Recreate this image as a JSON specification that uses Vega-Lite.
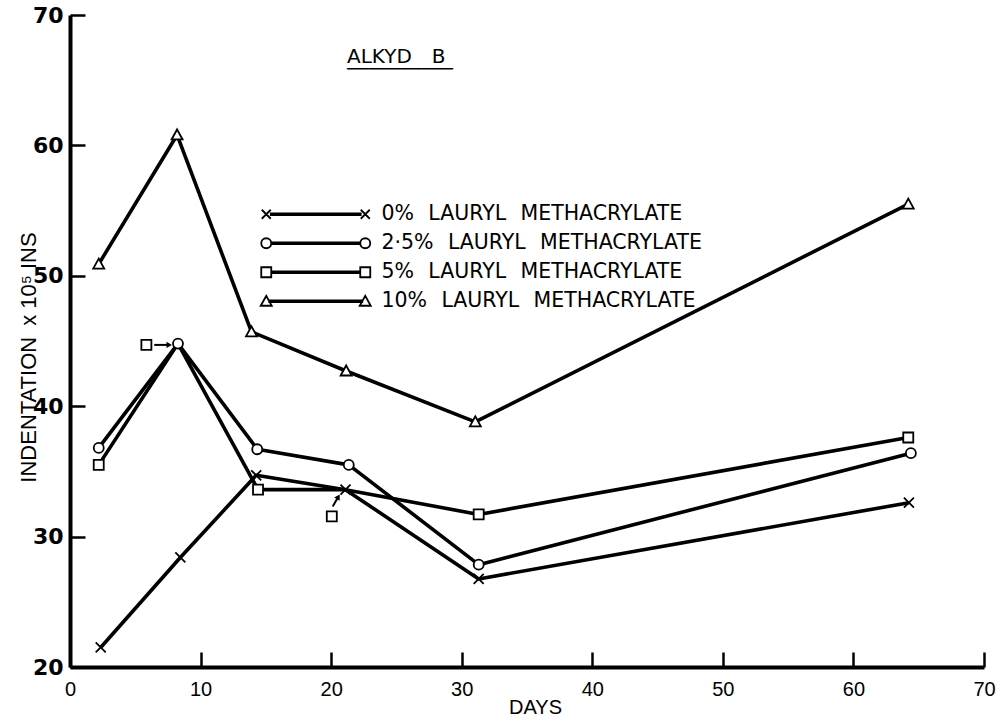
{
  "$schema": "https://vega.github.io/schema/vega-lite/v6.json",
  "width": 914,
  "height": 652,
  "autosize": {"type": "none"},
  "padding": {"left": 70, "top": 15, "right": 19, "bottom": 58},
  "background": "white",
  "title": {
    "text": "ALKYD\u2003B",
    "subtitle": "\u2500\u2500\u2500\u2500\u2500\u2500\u2500\u2500\u2500\u2500",
    "anchor": "start",
    "frame": "group",
    "orient": "top",
    "offset": 0,
    "dx": 277,
    "dy": 91,
    "baseline": "alphabetic",
    "font": "DejaVu Sans",
    "fontSize": 20,
    "fontWeight": "normal",
    "color": "black",
    "subtitleFont": "DejaVu Sans",
    "subtitleFontSize": 17.6,
    "subtitleColor": "black",
    "subtitlePadding": -8
  },
  "datasets": {
    "series": [
      {"series": "0%", "day": 2.35, "value": 21.5, "shown": "yes"},
      {"series": "0%", "day": 8.45, "value": 28.4, "shown": "yes"},
      {"series": "0%", "day": 14.26, "value": 34.7, "shown": "yes"},
      {"series": "0%", "day": 21.1, "value": 33.6, "shown": "yes"},
      {"series": "0%", "day": 31.3, "value": 26.75, "shown": "yes"},
      {"series": "0%", "day": 64.25, "value": 32.6, "shown": "yes"},
      {"series": "2·5%", "day": 2.2, "value": 36.8, "shown": "yes"},
      {"series": "2·5%", "day": 8.27, "value": 44.8, "shown": "yes"},
      {"series": "2·5%", "day": 14.34, "value": 36.7, "shown": "yes"},
      {"series": "2·5%", "day": 21.35, "value": 35.5, "shown": "yes"},
      {"series": "2·5%", "day": 31.3, "value": 27.85, "shown": "yes"},
      {"series": "2·5%", "day": 64.4, "value": 36.4, "shown": "yes"},
      {"series": "5%", "day": 2.2, "value": 35.5, "shown": "yes"},
      {"series": "5%", "day": 8.27, "value": 44.8, "shown": "no"},
      {"series": "5%", "day": 14.4, "value": 33.6, "shown": "yes"},
      {"series": "5%", "day": 21.1, "value": 33.6, "shown": "no"},
      {"series": "5%", "day": 31.3, "value": 31.7, "shown": "yes"},
      {"series": "5%", "day": 64.2, "value": 37.6, "shown": "yes"},
      {"series": "10%", "day": 2.2, "value": 50.9, "shown": "yes"},
      {"series": "10%", "day": 8.2, "value": 60.8, "shown": "yes"},
      {"series": "10%", "day": 13.9, "value": 45.7, "shown": "yes"},
      {"series": "10%", "day": 21.15, "value": 42.7, "shown": "yes"},
      {"series": "10%", "day": 31.04, "value": 38.8, "shown": "yes"},
      {"series": "10%", "day": 64.2, "value": 55.5, "shown": "yes"}
    ],
    "notes": [
      {"day": 5.85, "value": 44.7},
      {"day": 20.05, "value": 31.55}
    ],
    "arrows": [
      {"id": "a", "day": 6.45, "value": 44.7, "day2": 7.6, "value2": 44.7},
      {"id": "b", "day": 20.12, "value": 32.3, "day2": 20.55, "value2": 33.05}
    ]
  },
  "layer": [
    {
      "data": {"name": "series"},
      "mark": {"type": "line", "stroke": "black", "strokeWidth": 3.6, "strokeJoin": "round"},
      "encoding": {
        "x": {"field": "day", "type": "quantitative"},
        "y": {"field": "value", "type": "quantitative"},
        "detail": {"field": "series"}
      }
    },
    {
      "data": {"name": "series"},
      "transform": [{"filter": "datum.shown === 'yes'"}],
      "mark": {"type": "point", "filled": true, "fill": "white", "stroke": "black", "strokeWidth": 1.8, "size": 100, "opacity": 1},
      "encoding": {
        "x": {"field": "day", "type": "quantitative"},
        "y": {"field": "value", "type": "quantitative"},
        "shape": {
          "field": "series",
          "type": "nominal",
          "legend": null,
          "scale": {
            "domain": ["0%", "2·5%", "5%", "10%"],
            "range": [
              "M-1,-1L1,1M-1,1L1,-1",
              "M1,0A1,1 0 1,1 -1,0A1,1 0 1,1 1,0Z",
              "M-1,-1L1,-1L1,1L-1,1Z",
              "M-1.1,0.9L0,-1.1L1.1,0.9Z"
            ]
          }
        }
      }
    },
    {
      "data": {"name": "series"},
      "transform": [{"filter": "datum.shown === 'yes'"}],
      "mark": {"type": "point", "filled": false, "stroke": "black", "strokeWidth": 1.8, "size": 100, "opacity": 0},
      "encoding": {
        "x": {"field": "day", "type": "quantitative"},
        "y": {"field": "value", "type": "quantitative"},
        "shape": {
          "field": "series",
          "type": "nominal",
          "scale": {
            "domain": ["0%", "2·5%", "5%", "10%"],
            "range": [
              "M-0.9,-0.9L0.9,0.9M-0.9,0.9L0.9,-0.9M18.9,-0.9L20.7,0.9M18.9,0.9L20.7,-0.9M0.9,-0.15L18.9,-0.15L18.9,0.15L0.9,0.15Z",
              "M1,0A1,1 0 1,1 -1,0A1,1 0 1,1 1,0ZM20.8,0A1,1 0 1,1 18.8,0A1,1 0 1,1 20.8,0ZM1,-0.15L18.8,-0.15L18.8,0.15L1,0.15Z",
              "M-1,-1L1,-1L1,1L-1,1ZM18.8,-1L20.8,-1L20.8,1L18.8,1ZM1,-0.15L18.8,-0.15L18.8,0.15L1,0.15Z",
              "M-1.1,0.9L0,-1.1L1.1,0.9ZM18.7,0.9L19.8,-1.1L20.9,0.9ZM0.6,-0.15L19.2,-0.15L19.2,0.15L0.6,0.15Z"
            ]
          },
          "legend": {
            "title": null,
            "orient": "none",
            "legendX": 186,
            "legendY": 189,
            "padding": 0,
            "symbolSize": 100,
            "symbolOffset": 0,
            "symbolOpacity": 1,
            "symbolStrokeColor": "black",
            "symbolFillColor": "transparent",
            "symbolStrokeWidth": 1.8,
            "labelOffset": 105,
            "rowPadding": 8,
            "labelFont": "DejaVu Sans",
            "labelFontSize": 20.5,
            "labelColor": "black",
            "labelLimit": 0,
            "labelExpr": "datum.label + '\u2002\u2009LAURYL\u2002\u2009METHACRYLATE'"
          }
        }
      }
    },
    {
      "data": {"name": "notes"},
      "mark": {"type": "point", "shape": "M-1,-1L1,-1L1,1L-1,1Z", "filled": true, "fill": "white", "stroke": "black", "strokeWidth": 1.8, "size": 100, "opacity": 1},
      "encoding": {
        "x": {"field": "day", "type": "quantitative"},
        "y": {"field": "value", "type": "quantitative"}
      }
    },
    {
      "data": {"name": "arrows"},
      "mark": {"type": "rule", "stroke": "black", "strokeWidth": 2},
      "encoding": {
        "x": {"field": "day", "type": "quantitative"},
        "y": {"field": "value", "type": "quantitative"},
        "x2": {"field": "day2"},
        "y2": {"field": "value2"}
      }
    },
    {
      "data": {"name": "arrows"},
      "transform": [{"filter": "datum.id === 'a'"}],
      "mark": {"type": "point", "shape": "triangle-up", "filled": true, "color": "black", "size": 40, "angle": 90, "opacity": 1},
      "encoding": {
        "x": {"field": "day2", "type": "quantitative"},
        "y": {"field": "value2", "type": "quantitative"}
      }
    },
    {
      "data": {"name": "arrows"},
      "transform": [{"filter": "datum.id === 'b'"}],
      "mark": {"type": "point", "shape": "triangle-up", "filled": true, "color": "black", "size": 40, "angle": 30, "opacity": 1},
      "encoding": {
        "x": {"field": "day2", "type": "quantitative"},
        "y": {"field": "value2", "type": "quantitative"}
      }
    }
  ],
  "resolve": {"scale": {"shape": "independent"}, "legend": {"shape": "independent"}},
  "encoding": {
    "x": {
      "type": "quantitative",
      "scale": {"domain": [0, 70], "nice": false, "zero": false},
      "axis": {
        "values": [0, 10, 20, 30, 40, 50, 60, 70],
        "title": "DAYS",
        "titleFont": "Liberation Sans",
        "titleFontSize": 20,
        "titleFontWeight": "normal",
        "titleX": 465,
        "titleY": 40,
        "titleBaseline": "middle",
        "titleAnchor": "middle",
        "labelFont": "Liberation Sans",
        "labelFontSize": 20,
        "labelPadding": 27,
        "labelFlush": false
      }
    },
    "y": {
      "type": "quantitative",
      "scale": {"domain": [20, 70], "nice": false, "zero": false},
      "axis": {
        "values": [20, 30, 40, 50, 60, 70],
        "title": "INDENTATION\u2002x 10\u2075 INS",
        "titleFont": "Liberation Sans",
        "titleFontSize": 22,
        "titleFontWeight": "normal",
        "titleX": -42,
        "titleY": 342,
        "titleAngle": -90,
        "titleBaseline": "middle",
        "titleAnchor": "middle",
        "labelFont": "DejaVu Sans",
        "labelFontSize": 22,
        "labelFontWeight": "bold",
        "labelPadding": 22,
        "labelFlush": false
      }
    }
  },
  "config": {
    "view": {"stroke": null},
    "axis": {
      "grid": false,
      "domainColor": "black",
      "domainWidth": 4,
      "tickColor": "black",
      "tickWidth": 2.5,
      "tickSize": -15,
      "labelColor": "black",
      "titleColor": "black"
    }
  }
}
